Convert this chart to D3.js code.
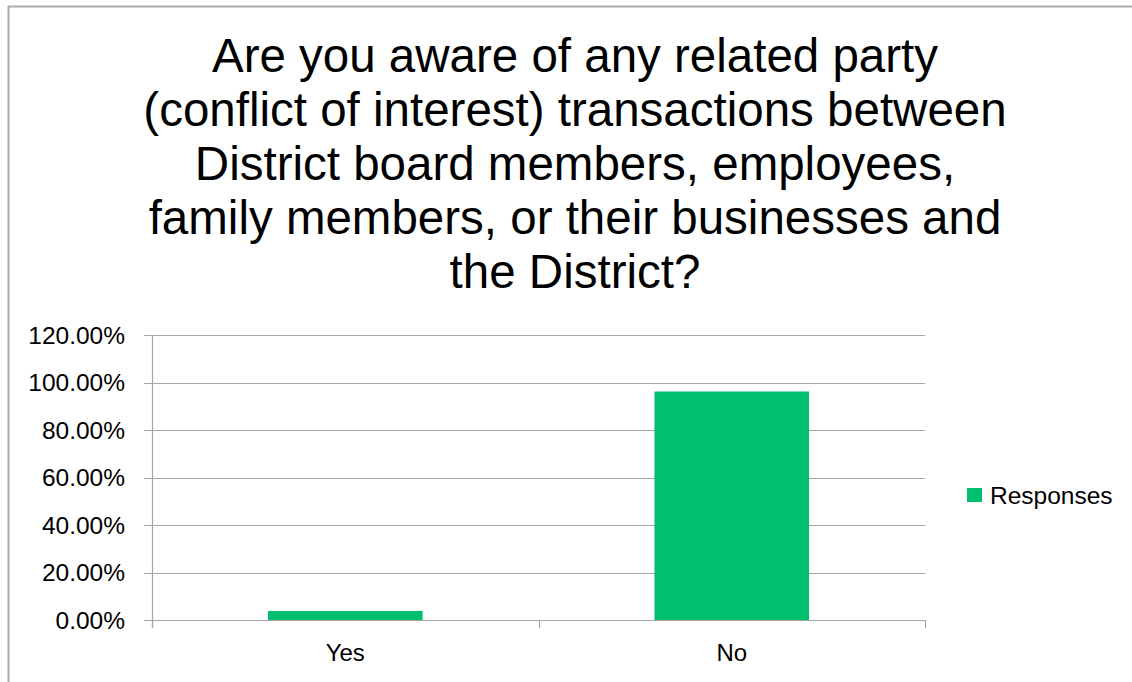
<!DOCTYPE html>
<html>
<head>
<meta charset="utf-8">
<script src="https://cdn.jsdelivr.net/npm/d3@7"></script>
<style>
  html, body { margin: 0; padding: 0; background: #fff; }
  svg { display: block; }
  text { font-family: "Liberation Sans", Arial, sans-serif; fill: #000; }
</style>
</head>
<body>
<svg id="chart" width="1132" height="682"></svg>
<script>
// Survey answers and their share of responses
const categories = ["Yes", "No"];
const responses = [0.0380, 0.9620];
const yTicks = [0, 0.2, 0.4, 0.6, 0.8, 1.0, 1.2];
const titleLines = [
  "Are you aware of any related party",
  "(conflict of interest) transactions between",
  "District board members, employees,",
  "family members, or their businesses and",
  "the District?"
];
const seriesName = "Responses";

const svg = d3.select("#chart");
const W = 1132, H = 682;
const green = "#00BF6F";
const gridColor = "#A6A6A6";

// outer frame
svg.append("rect")
  .attr("x", 8.5).attr("y", 6.5)
  .attr("width", W + 10).attr("height", H + 10)
  .attr("fill", "none").attr("stroke", "#ABABAB").attr("stroke-width", 2);

// title
const title = svg.append("text")
  .attr("text-anchor", "middle")
  .style("font-size", "47.5px");
titleLines.forEach((line, i) => {
  title.append("tspan").attr("x", 575).attr("y", 72 + i * 54).text(line);
});

// plot area
const plot = { left: 152, right: 925, top: 335, bottom: 620 };

const x = d3.scaleBand()
  .domain(categories)
  .range([plot.left, plot.right])
  .paddingInner(0.6)
  .paddingOuter(0.3);

const y = d3.scaleLinear()
  .domain([0, 1.2])
  .range([plot.bottom, plot.top]);

// horizontal gridlines with outward ticks
svg.append("g")
  .selectAll("line")
  .data(yTicks)
  .join("line")
  .attr("x1", plot.left - 8)
  .attr("x2", plot.right)
  .attr("y1", d => Math.round(y(d)) + 0.5)
  .attr("y2", d => Math.round(y(d)) + 0.5)
  .attr("stroke", gridColor)
  .attr("stroke-width", 1.2);

// y axis labels
svg.append("g")
  .selectAll("text")
  .data(yTicks)
  .join("text")
  .attr("x", 125)
  .attr("y", d => y(d))
  .attr("dy", "0.35em")
  .attr("text-anchor", "end")
  .style("font-size", "24.5px")
  .text(d => d3.format(".2%")(d));

// y axis line
svg.append("line")
  .attr("x1", plot.left + 0.5).attr("x2", plot.left + 0.5)
  .attr("y1", plot.top).attr("y2", plot.bottom + 8)
  .attr("stroke", gridColor).attr("stroke-width", 1.2);

// category boundary ticks on x axis
const step = (plot.right - plot.left) / categories.length;
const boundaries = d3.range(categories.length + 1).map(i => plot.left + i * step);
svg.append("g")
  .selectAll("line")
  .data(boundaries)
  .join("line")
  .attr("x1", d => Math.round(d) + 0.5)
  .attr("x2", d => Math.round(d) + 0.5)
  .attr("y1", plot.bottom)
  .attr("y2", plot.bottom + 8)
  .attr("stroke", gridColor).attr("stroke-width", 1.2);

// bars
svg.append("g")
  .selectAll("rect")
  .data(categories.map((c, i) => ({ c, v: responses[i] })))
  .join("rect")
  .attr("x", d => x(d.c))
  .attr("width", x.bandwidth())
  .attr("y", d => y(d.v))
  .attr("height", d => y(0) - y(d.v))
  .attr("fill", green);

// x axis labels
svg.append("g")
  .selectAll("text")
  .data(categories)
  .join("text")
  .attr("x", d => x(d) + x.bandwidth() / 2)
  .attr("y", 661)
  .attr("text-anchor", "middle")
  .style("font-size", "24px")
  .text(d => d);

// legend
const legend = svg.append("g").attr("transform", "translate(967,488)");
legend.append("rect")
  .attr("width", 15).attr("height", 14)
  .attr("fill", green);
legend.append("text")
  .attr("x", 23).attr("y", 7)
  .attr("dy", "0.35em")
  .style("font-size", "24.5px")
  .text(seriesName);
</script>
</body>
</html>
